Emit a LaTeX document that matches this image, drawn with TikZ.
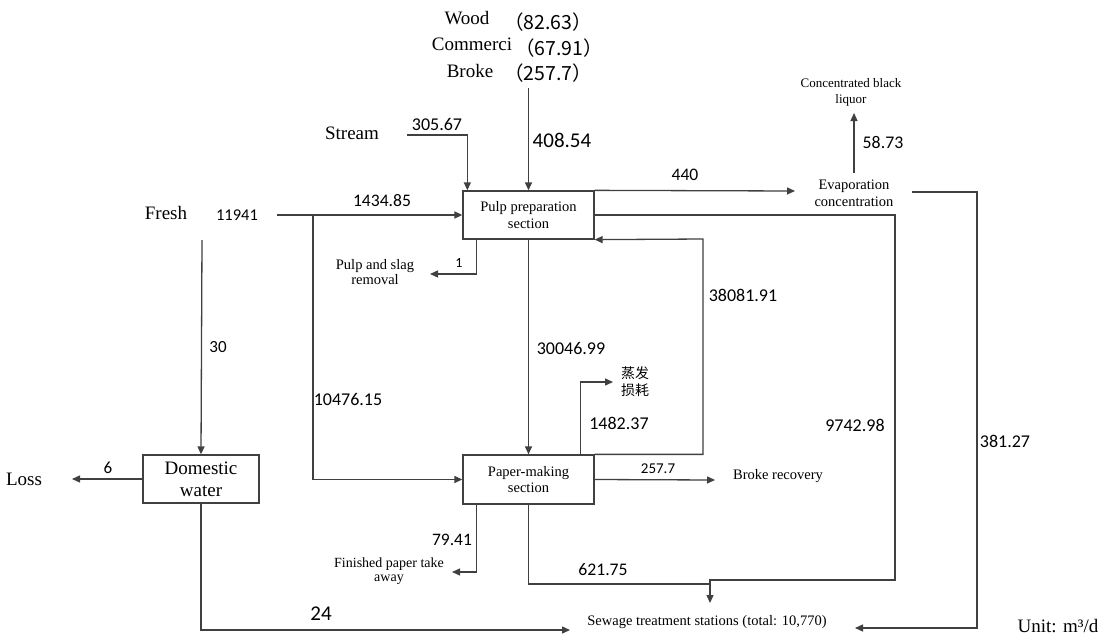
\documentclass[tikz,border=0pt]{standalone}
\usepackage{fontspec}
\setmainfont{Liberation Serif}
\newfontfamily\num{Carlito}
\newfontfamily\cjk{Noto Sans CJK SC}
\usetikzlibrary{arrows.meta}
\definecolor{linec}{HTML}{404040}
\newcommand{\fs}[2]{\fontsize{#1}{#2}\selectfont}
\tikzset{
  pipe/.style={draw=linec, line width=1.3pt},
  flow/.style={pipe, -{Triangle[length=8pt,width=7pt]}},
  unit/.style={draw=linec, line width=1.3pt, fill=white, inner sep=0pt, align=center},
  lbl/.style={inner sep=0pt, align=center},
  val/.style={inner sep=0pt, font=\num},
}
\begin{document}
\begin{tikzpicture}[x=1pt,y=-1pt]
\useasboundingbox[fill=white] (0,0) rectangle (1103,637);

% process units
\node[unit, minimum width=131pt, minimum height=48pt, font=\rmfamily\fs{14.5}{17}] (pulp) at (528.5,215) {Pulp preparation\\section};
\node[unit, minimum width=131pt, minimum height=49pt, font=\rmfamily\fs{14.5}{16}] (paper) at (528.5,479.5) {Paper-making\\section};
\node[unit, minimum width=116pt, minimum height=48pt, font=\rmfamily\fs{19}{22}] (dom) at (201,479) {Domestic\\water};

% sources and sinks
\node[lbl, font=\fs{19}{22}] (wood) at (467,18) {Wood};
\node[lbl, font=\fs{19}{22}] (comm) at (472,44) {Commerci};
\node[lbl, font=\fs{19}{22}] (broke) at (470,71) {Broke};
\node[lbl, font=\cjk\fs{19.5}{20}] (woodv) at (548,22) {（82.63）};
\node[lbl, font=\cjk\fs{19.5}{20}] (commv) at (559,48) {（67.91）};
\node[lbl, font=\cjk\fs{19.5}{20}] (brokev) at (548,73) {（257.7）};
\node[lbl, font=\fs{19}{22}] (stream) at (352,133) {Stream};
\node[lbl, font=\fs{19}{22}] (fresh) at (166,213) {Fresh};
\node[lbl, font=\fs{19}{22}] (loss) at (24,479) {Loss};
\node[lbl, font=\fs{14.5}{15.5}] (slag) at (375,272) {Pulp and slag\\removal};
\node[lbl, font=\fs{13}{16}] (cbl) at (851,92) {Concentrated black\\liquor};
\node[lbl, font=\fs{14.5}{17}] (evap) at (854,193) {Evaporation\\concentration};
\node[lbl, font=\cjk\fs{14}{17}] (evloss) at (635,382) {蒸发\\损耗};
\node[lbl, font=\fs{14.5}{16}] (brec) at (778,476) {Broke recovery};
\node[lbl, font=\fs{14}{14}] (fin) at (389,571) {Finished paper take\\away};
\node[lbl, font=\fs{14.5}{16}] (sew) at (707,622) {Sewage treatment stations (total: 10,770)};
\node[lbl, font=\fs{19}{22}] (unitlbl) at (1058,626) {Unit: m³/d};

% flow values
\node[val, font=\num\fs{18}{20}] (v305) at (437,124) {305.67};
\node[val, font=\num\fs{21}{22}] (v408) at (562,140) {408.54};
\node[val, font=\num\fs{16.5}{18}] (v11941) at (237,215) {11941};
\node[val, font=\num\fs{17.6}{20}] (v1434) at (382,201) {1434.85};
\node[val, font=\num\fs{14}{16}] (v1) at (459,263) {1};
\node[val, font=\num\fs{17.6}{20}] (v440) at (685,175) {440};
\node[val, font=\num\fs{17.8}{20}] (v58) at (883,142) {58.73};
\node[val, font=\num\fs{18}{20}] (v38081) at (743,295) {38081.91};
\node[val, font=\num\fs{18}{20}] (v30046) at (571,348) {30046.99};
\node[val, font=\num\fs{18}{20}] (v1482) at (619,423) {1482.37};
\node[val, font=\num\fs{18}{20}] (v9742) at (855,425) {9742.98};
\node[val, font=\num\fs{18}{20}] (v10476) at (348,399) {10476.15};
\node[val, font=\num\fs{17}{20}] (v30) at (218,347) {30};
\node[val, font=\num\fs{18}{20}] (v381) at (1005,441) {381.27};
\node[val, font=\num\fs{17}{20}] (v6) at (108,468) {6};
\node[val, font=\num\fs{15}{17}] (v257) at (658,469) {257.7};
\node[val, font=\num\fs{17.5}{20}] (v79) at (452,540) {79.41};
\node[val, font=\num\fs{17.7}{20}] (v621) at (603,570) {621.75};
\node[val, font=\num\fs{21}{22}] (v24) at (321,614) {24};

% connector ends
\coordinate (sstart) at (407,135);
\coordinate (wstart) at (528.5,88);
\coordinate (fstart) at (277,215);
\coordinate (branch) at (313,215);
\coordinate (fdown) at (202,240);
\coordinate (slagend) at (430,274);
\coordinate (evapin) at (795,191);
\coordinate (evapout) at (912,192);
\coordinate (evapup) at (854,173);
\coordinate (cblend) at (854,113);
\coordinate (rcorner) at (977,628);
\coordinate (sewR) at (855,628);
\coordinate (wcorner) at (895,580);
\coordinate (sewtop) at (710,603);
\coordinate (sewjoin) at (710,584);
\coordinate (sewL) at (570,630);
\coordinate (loopc) at (703,239);
\coordinate (evlossend) at (613,382);
\coordinate (brokeend) at (715,480);
\coordinate (finend) at (452,572);
\coordinate (lossend) at (72,479);

% connectors
\draw[flow] (sstart) -| ([xshift=5pt]pulp.north west);
\draw[flow] (wstart) -- (pulp.north);
\draw[flow] (fstart) -- (pulp.west);
\draw[flow] (branch) |- (paper.west);
\draw[flow] ([xshift=14pt]pulp.south west) |- (slagend);
\draw[flow] (pulp.north east) -- (evapin);
\draw[flow] (pulp.east) -| (wcorner) -| (sewtop);
\draw[flow] (evapout) -| (rcorner) -- (sewR);
\draw[flow] (evapup) -- (cblend);
\draw[flow] (pulp.south) -- (paper.north);
\draw[flow] (paper.north east) -| (loopc) -- (pulp.south east);
\draw[flow] ([xshift=-14pt]paper.north east) |- (evlossend);
\draw[flow] (paper.east) -- (brokeend);
\draw[flow] ([xshift=14pt]paper.south west) |- (finend);
\draw[pipe] (paper.south) |- (sewjoin);
\draw[flow] (dom.south) |- (sewL);
\draw[flow] (fdown) -- (dom.north);
\draw[flow] (dom.west) -- (lossend);
\end{tikzpicture}
\end{document}
